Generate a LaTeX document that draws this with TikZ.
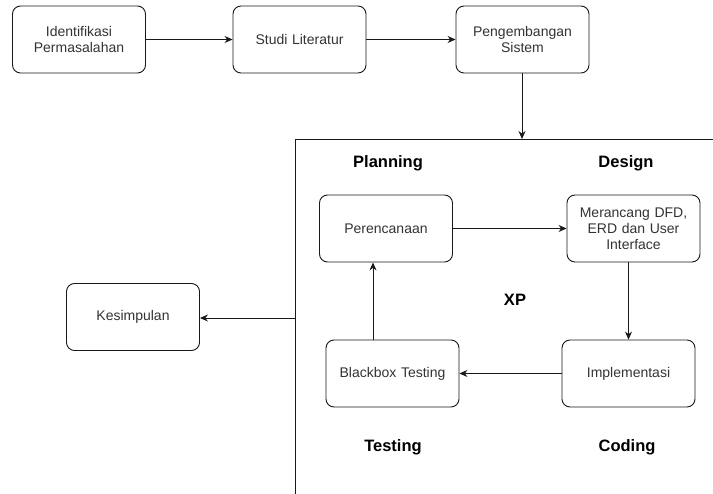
\documentclass[tikz,border=0pt]{standalone}
\usepackage{fontspec}
\setmainfont{Liberation Sans}
\usetikzlibrary{arrows.meta}
\begin{document}
\begin{tikzpicture}[x=1pt,y=-1pt,
  box/.style={draw=black!90,line width=0.9pt,rounded corners=8pt,minimum width=133pt,minimum height=67pt,inner sep=2pt,align=center,text width=125pt,font=\fontsize{14}{16}\selectfont,text=black!80},
  lbl/.style={font=\bfseries\fontsize{16.5}{19}\selectfont,text=black},
  conn/.style={draw=black!90,line width=0.9pt,-{Stealth[length=8pt,width=7pt]}}]
\useasboundingbox (0,0) rectangle (713,494);
\fill[white] (0,0) rectangle (713,494);
\node[box] (iden) at (79,39.5) {Identifikasi\\Permasalahan};
\node[box] (studi) at (299.5,39.5) {Studi Literatur};
\node[box] (peng) at (522.5,39.5) {Pengembangan\\Sistem};
\node[box] (peren) at (386,228.5) {Perencanaan};
\node[box] (meran) at (633.5,228.5) {Merancang DFD,\\ERD dan User\\Interface};
\node[box] (kesim) at (133,317) {Kesimpulan};
\node[box] (black) at (392.5,373.5) {Blackbox Testing};
\node[box] (impl) at (628.5,373.5) {Implementasi};
\node[lbl] (plan) at (388,163) {Planning};
\node[lbl] (des) at (626,163) {Design};
\node[lbl] (xp) at (515,300) {XP};
\node[lbl] (test) at (393,447) {Testing};
\node[lbl] (cod) at (627,447) {Coding};
\coordinate (fbl) at (295,494);
\coordinate (ftl) at (295,139);
\coordinate (ftr) at (713,139);
\coordinate (ftop) at (522,139);
\coordinate (fleft) at (295,318);
\draw[black!90,line width=0.9pt] (fbl) -- (ftl) -- (ftr);
\draw[conn] (iden) -- (studi);
\draw[conn] (studi) -- (peng);
\draw[conn] (peng.south -| ftop) -- (ftop);
\draw[conn] (fleft) -- (fleft -| kesim.east);
\draw[conn] (peren) -- (meran);
\draw[conn] (meran.south -| impl.north) -- (impl.north);
\draw[conn] (impl) -- (black);
\draw[conn] ([xshift=-19.5pt]black.north) -- ([xshift=-19.5pt]black.north |- peren.south);
\end{tikzpicture}
\end{document}
